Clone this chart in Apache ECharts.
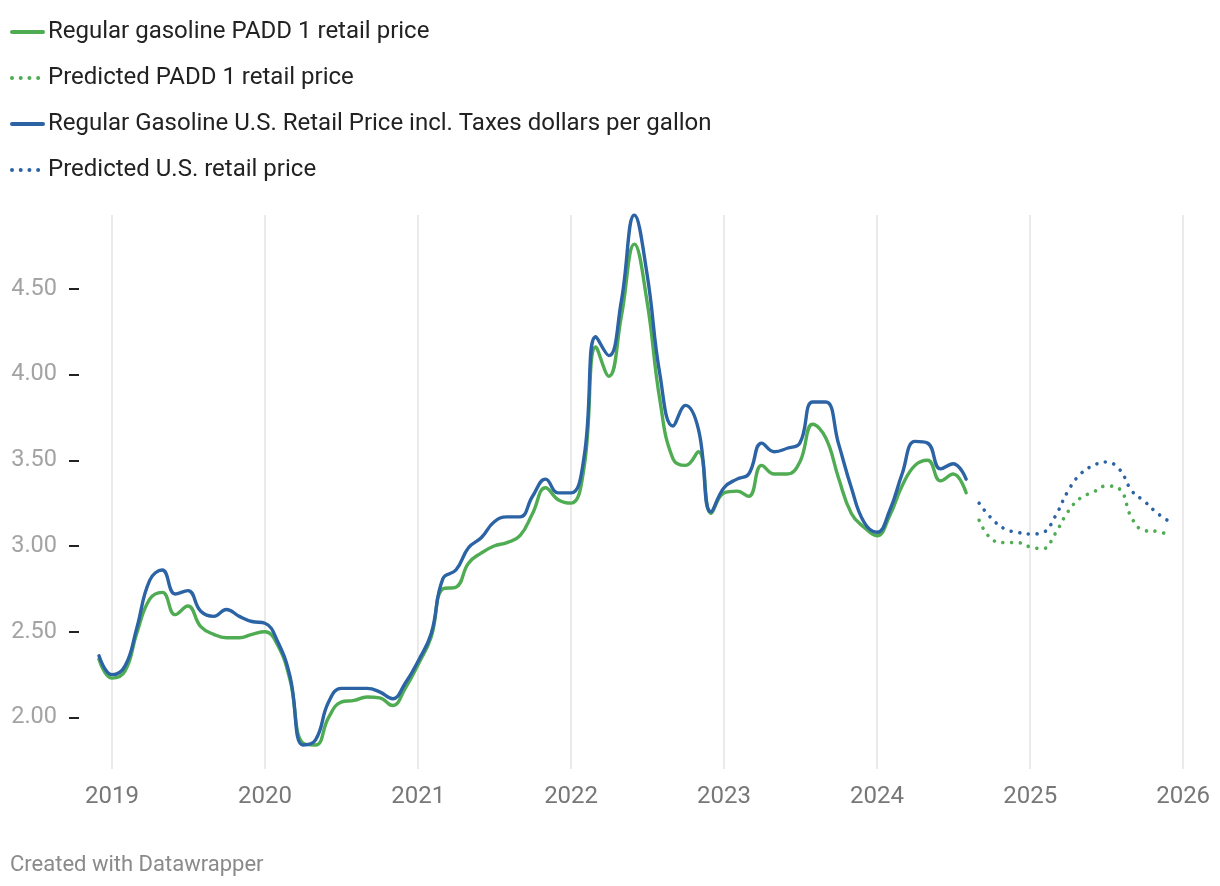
<!DOCTYPE html>
<html><head><meta charset="utf-8">
<script src="https://cdn.jsdelivr.net/npm/echarts@6/dist/echarts.min.js"></script>
<style>html,body{margin:0;padding:0;background:#fff}#c{width:1220px;height:886px}</style>
</head><body><div id="c"></div>
<script>
const actualMonths = [
  '2018-12',
  '2019-01','2019-02','2019-03','2019-04','2019-05','2019-06','2019-07','2019-08','2019-09','2019-10','2019-11','2019-12',
  '2020-01','2020-02','2020-03','2020-04','2020-05','2020-06','2020-07','2020-08','2020-09','2020-10','2020-11','2020-12',
  '2021-01','2021-02','2021-03','2021-04','2021-05','2021-06','2021-07','2021-08','2021-09','2021-10','2021-11','2021-12',
  '2022-01','2022-02','2022-03','2022-04','2022-05','2022-06','2022-07','2022-08','2022-09','2022-10','2022-11','2022-12',
  '2023-01','2023-02','2023-03','2023-04','2023-05','2023-06','2023-07','2023-08','2023-09','2023-10','2023-11','2023-12',
  '2024-01','2024-02','2024-03','2024-04','2024-05','2024-06','2024-07','2024-08'
];
const predictedMonths = [
  '2024-09','2024-10','2024-11','2024-12',
  '2025-01','2025-02','2025-03','2025-04','2025-05','2025-06','2025-07','2025-08','2025-09','2025-10','2025-11','2025-12'
];
const padd1Actual = [
  2.34,
  2.23, 2.27, 2.49, 2.69, 2.73, 2.60, 2.65, 2.53, 2.485, 2.465, 2.465, 2.485,
  2.50, 2.42, 2.22, 1.85, 1.84, 2.00, 2.09, 2.10, 2.12, 2.115, 2.07, 2.17,
  2.31, 2.47, 2.75, 2.76, 2.90, 2.96, 3.00, 3.02, 3.06, 3.19, 3.34, 3.27,
  3.25, 3.46, 4.16, 3.99, 4.34, 4.76, 4.43, 3.85, 3.51, 3.47, 3.55, 3.19,
  3.31, 3.32, 3.29, 3.47, 3.42, 3.42, 3.49, 3.71, 3.63, 3.40, 3.19, 3.11,
  3.06, 3.18, 3.35, 3.47, 3.50, 3.38, 3.42, 3.31
];
const padd1Predicted = [3.15, 3.04, 3.02, 3.02, 2.995, 2.985, 3.07, 3.20, 3.28, 3.315, 3.35, 3.335, 3.16, 3.09, 3.085, 3.06];
const usActual = [
  2.36,
  2.25, 2.30, 2.52, 2.80, 2.86, 2.72, 2.74, 2.62, 2.59, 2.63, 2.59, 2.56,
  2.55, 2.44, 2.24, 1.84, 1.87, 2.09, 2.17, 2.17, 2.17, 2.15, 2.11, 2.20,
  2.33, 2.49, 2.81, 2.86, 2.99, 3.05, 3.14, 3.17, 3.17, 3.29, 3.39, 3.31,
  3.31, 3.52, 4.22, 4.11, 4.43, 4.93, 4.59, 4.00, 3.70, 3.82, 3.68, 3.20,
  3.34, 3.39, 3.42, 3.60, 3.55, 3.57, 3.60, 3.84, 3.84, 3.60, 3.34, 3.14,
  3.08, 3.21, 3.42, 3.61, 3.60, 3.45, 3.48, 3.39
];
const usPredicted = [3.25, 3.16, 3.10, 3.08, 3.07, 3.08, 3.17, 3.32, 3.42, 3.47, 3.49, 3.45, 3.32, 3.26, 3.19, 3.14];
const yTickValues = [2.0, 2.5, 3.0, 3.5, 4.0, 4.5];
const seriesNames = [
  'Regular gasoline PADD 1 retail price',
  'Predicted PADD 1 retail price',
  'Regular Gasoline U.S. Retail Price incl. Taxes dollars per gallon',
  'Predicted U.S. retail price'
];
const GREEN = '#4fac52';
const BLUE = '#2b63a5';
const FONT = 'Roboto';

function pairs(months, vals) { return months.map((m, i) => [m + '-01', vals[i]]); }

function lineSeries(name, data, color, dotted) {
  return {
    name, type: 'line', data, symbol: 'none', smooth: 0.45,
    color,
    lineStyle: dotted
      ? { color, width: 3.6, type: [0.01, 8.7], cap: 'round' }
      : { color, width: 3.4, cap: 'round', join: 'round' },
    emphasis: { disabled: true }
  };
}

const chart = echarts.init(document.getElementById('c'), null, { renderer: 'canvas' });
chart.setOption({
  animation: false,
  backgroundColor: '#fff',
  textStyle: { fontFamily: FONT },
  title: {
    text: 'Created with Datawrapper', left: 5, top: 849,
    textStyle: { fontFamily: FONT, fontSize: 22, fontWeight: 'normal', color: '#8a8a8a' }
  },
  legend: {
    orient: 'vertical', left: 5, top: 14, itemWidth: 31, itemHeight: 14, itemGap: 20,
    itemStyle: { opacity: 0 },
    lineStyle: { width: 4 },
    textStyle: { fontFamily: FONT, fontSize: 24, color: '#222', lineHeight: 26 },
    data: seriesNames
  },
  grid: { left: 99, right: 31, top: 215, bottom: 117, outerBoundsMode: 'none' },
  xAxis: {
    type: 'time',
    min: '2018-12-01', max: '2026-01-15',
    minInterval: 365 * 24 * 3600 * 1000, maxInterval: 366 * 24 * 3600 * 1000,
    axisLine: { show: false }, axisTick: { show: false },
    axisLabel: { formatter: '{yyyy}', fontFamily: FONT, fontSize: 24, color: '#777', margin: 16, showMinLabel: false, showMaxLabel: false },
    splitLine: { show: true, showMinLine: false, showMaxLine: false, lineStyle: { color: '#e3e3e3', width: 1.5 } }
  },
  yAxis: {
    type: 'value', min: 1.7, max: 4.93, offset: 20,
    axisLine: { show: false },
    axisTick: { show: true, length: 10, lineStyle: { color: '#222', width: 2 }, customValues: yTickValues },
    axisLabel: { customValues: yTickValues, formatter: v => v.toFixed(2), fontFamily: FONT, fontSize: 23.5, color: '#a3a3a3', margin: 22 },
    splitLine: { show: false }
  },
  series: [
    lineSeries(seriesNames[0], pairs(actualMonths, padd1Actual), GREEN, false),
    lineSeries(seriesNames[1], pairs(predictedMonths, padd1Predicted), GREEN, true),
    lineSeries(seriesNames[2], pairs(actualMonths, usActual), BLUE, false),
    lineSeries(seriesNames[3], pairs(predictedMonths, usPredicted), BLUE, true)
  ]
});
</script></body></html>
